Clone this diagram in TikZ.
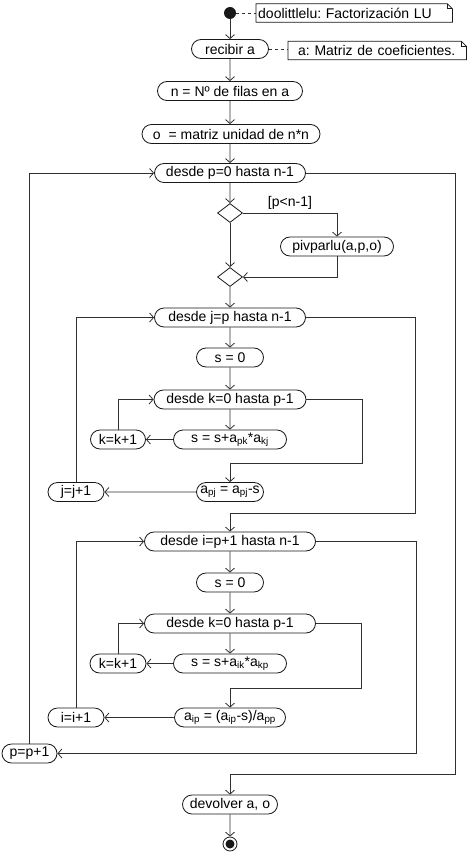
\documentclass[tikz,border=0pt]{standalone}
\usepackage{fontspec}
\setmainfont{Liberation Sans}
\usepackage{tikz}
\usetikzlibrary{arrows.meta, shapes.misc, shapes.geometric}
\definecolor{boxc}{HTML}{181818}
\definecolor{linec}{HTML}{303030}
\newcommand{\actfont}{\fontsize{14}{16}\selectfont}
\frenchspacing
\begin{document}
\begin{tikzpicture}[x=1pt,y=-1pt,
  act/.style={rounded rectangle, draw=boxc, fill=white, line width=0.8pt, minimum height=19pt, inner sep=0pt, font=\actfont},
  cond/.style={diamond, draw=boxc, fill=white, line width=0.8pt, minimum width=25pt, minimum height=19pt, inner sep=0pt},
  flow/.style={draw=linec, line width=0.8pt, -{Straight Barb[length=4pt,width=9pt]}},
  notebox/.style={rectangle, inner xsep=2pt, inner ysep=0pt, minimum height=18pt, align=left, font=\actfont},
  noteline/.style={draw=boxc, line width=0.8pt},
  dashnote/.style={draw=linec, line width=0.8pt, dash pattern=on 3pt off 3pt}]
\useasboundingbox (0,0) rectangle (469,853);
\node [circle, fill=boxc, minimum size=12pt, inner sep=0pt] (start) at (230,13) {};
\node [notebox, text width=192pt, anchor=west] (n1) at (256,13) {doolittlelu: Factorización LU};
\node [act, minimum width=77pt] (recibir) at (230,49) {recibir a};
\node [notebox, text width=174pt, anchor=west] (n2) at (288,50.5) {\hspace*{8pt}a: Matriz de coeficientes.};
\node [act, minimum width=145pt] (nfil) at (230,91) {n = Nº de filas en a};
\node [act, minimum width=178pt] (omat) at (231,134) {o~ = matriz unidad de n*n};
\node [act, minimum width=151pt] (desdeP) at (230,173) {desde p=0 hasta n-1};
\node [cond] (dia1) at (230,213) {};
\node [act, minimum width=113pt] (piv) at (337,246.5) {pivparlu(a,p,o)};
\node [cond] (dia2) at (230,277) {};
\node [act, minimum width=151pt] (desdeJ) at (230,317.5) {desde j=p hasta n-1};
\node [act, minimum width=67pt] (s01) at (230,357.5) {s = 0};
\node [act, minimum width=152pt] (desdeK1) at (230,399.5) {desde k=0 hasta p-1};
\node [act, minimum width=55pt] (kinc1) at (118,439.5) {k=k+1};
\node [act, minimum width=113pt] (sum1) at (230,439.5) {s = s+a\textsubscript{pk}*a\textsubscript{kj}};
\node [act, minimum width=67pt] (apj) at (230,492) {a\textsubscript{pj} = a\textsubscript{pj}-s};
\node [act, minimum width=56pt] (jinc) at (76,492) {j=j+1};
\node [act, minimum width=171pt] (desdeI) at (230,541.5) {desde i=p+1 hasta n-1};
\node [act, minimum width=67pt] (s02) at (230,582.5) {s = 0};
\node [act, minimum width=171pt] (desdeK2) at (230,623.5) {desde k=0 hasta p-1};
\node [act, minimum width=56pt] (kinc2) at (118,663.5) {k=k+1};
\node [act, minimum width=113pt] (sum2) at (230,663.5) {s = s+a\textsubscript{ik}*a\textsubscript{kp}};
\node [act, minimum width=111pt] (aip) at (230,717.5) {a\textsubscript{ip} = (a\textsubscript{ip}-s)/a\textsubscript{pp}};
\node [act, minimum width=56pt] (iinc) at (76,717.5) {i=i+1};
\node [act, minimum width=55pt] (pinc) at (29.5,753.5) {p=p+1};
\node [act, minimum width=95pt] (devolver) at (230,804.5) {devolver a, o};
\node [circle, draw=boxc, line width=0.8pt, fill=white, minimum size=14pt, inner sep=0pt] (stop) at (230,844) {};
\node [circle, fill=boxc, minimum size=9pt, inner sep=0pt] (stopin) at (stop) {};
\coordinate (k1out) at (362,463);
\coordinate (jout) at (415,513);
\coordinate (k2out) at (361,688);
\coordinate (iout) at (416,753.5);
\coordinate (pout) at (455,774);
\draw [noteline] (n1.north west) -- ([xshift=-5pt]n1.north east) -- ([yshift=-5pt]n1.north east) -- (n1.south east) -- (n1.south west) -- cycle;
\draw [noteline] ([xshift=-5pt]n1.north east) |- ([yshift=-5pt]n1.north east);
\draw [noteline] (n2.north west) -- ([xshift=-5pt]n2.north east) -- ([yshift=-5pt]n2.north east) -- (n2.south east) -- (n2.south west) -- cycle;
\draw [noteline] ([xshift=-5pt]n2.north east) |- ([yshift=-5pt]n2.north east);
\draw [dashnote] (start) -- (n1.west);
\draw [dashnote] (recibir.east) -- (n2.west |- recibir.east);
\draw [flow] (start) -- (recibir);
\draw [flow] (recibir) -- (nfil);
\draw [flow] (nfil) -- (omat.north -| nfil.south);
\draw [flow] (omat.south -| desdeP.north) -- (desdeP);
\draw [flow] (desdeP) -- (dia1);
\draw [flow] (dia1.east) -| (piv.north) node [pos=0.25, above, inner sep=3pt, font=\actfont] {[p<n-1]};
\draw [flow] (piv.south) |- (dia2.east);
\draw [flow] (dia1) -- (dia2);
\draw [flow] (dia2) -- (desdeJ);
\draw [flow] (desdeJ) -- (s01);
\draw [flow] (s01) -- (desdeK1);
\draw [flow] (desdeK1) -- (sum1);
\draw [flow] (sum1) -- (kinc1);
\draw [flow] (kinc1.north) |- (desdeK1.west);
\draw [flow] (desdeK1.east) -| (k1out) -| (apj.north);
\draw [flow] (apj) -- (jinc);
\draw [flow] (jinc.north) |- (desdeJ.west);
\draw [flow] (desdeJ.east) -| (jout) -| (desdeI.north);
\draw [flow] (desdeI) -- (s02);
\draw [flow] (s02) -- (desdeK2);
\draw [flow] (desdeK2) -- (sum2);
\draw [flow] (sum2) -- (kinc2);
\draw [flow] (kinc2.north) |- (desdeK2.west);
\draw [flow] (desdeK2.east) -| (k2out) -| (aip.north);
\draw [flow] (aip) -- (iinc);
\draw [flow] (iinc.north) |- (desdeI.west);
\draw [flow] (desdeI.east) -| (iout) -- (pinc.east);
\draw [flow] (pinc.north) |- (desdeP.west);
\draw [flow] (desdeP.east) -| (pout) -| (devolver.north);
\draw [flow] (devolver) -- (stop);
\end{tikzpicture}
\end{document}
